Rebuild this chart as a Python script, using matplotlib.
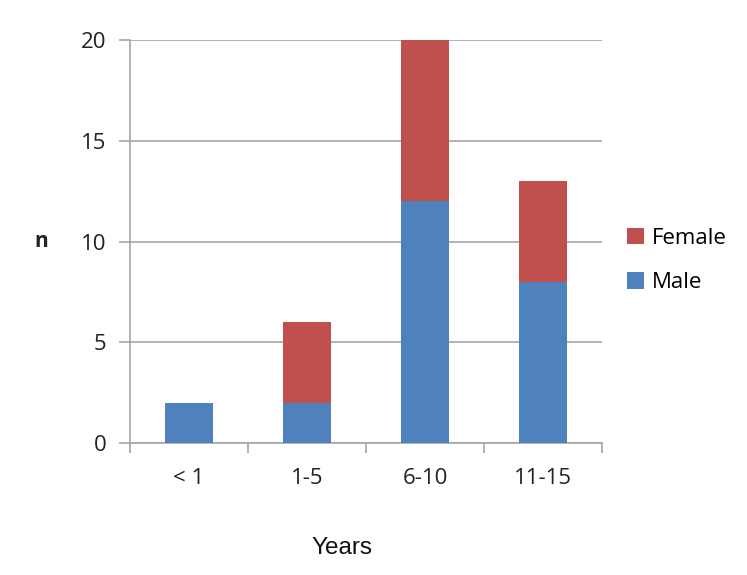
import numpy as np
import matplotlib.pyplot as plt

categories = ['< 1', '1-5', '6-10', '11-15']
male = [2, 2, 12, 8]
female = [0, 4, 8, 5]
yticks = [0, 5, 10, 15, 20]

blue = '#4F81BD'
red = '#C0504D'
grid_col = '#A6A6A6'

fig = plt.figure(figsize=(7.47, 5.75), dpi=100)
ax = fig.add_axes([0.174, 0.230, 0.632, 0.700])

x = np.arange(len(categories)) + 0.5
ax.bar(x, male, width=0.4, color=blue, label='Male', zorder=3)
ax.bar(x, female, width=0.4, bottom=male, color=red, label='Female', zorder=3)

ax.set_xlim(0, len(categories))
ax.set_ylim(0, 20)
ax.set_yticks(yticks)
ax.yaxis.grid(True, color=grid_col, linewidth=1.2, zorder=0)

# category ticks sit on the boundaries, labels in the middle
ax.set_xticks(np.arange(len(categories) + 1), minor=True)
ax.set_xticks(x)
ax.set_xticklabels(categories)
ax.tick_params(axis='x', which='major', length=0, pad=18)
ax.tick_params(axis='x', which='minor', length=7, color=grid_col, width=1.2)
ax.tick_params(axis='y', length=8, color=grid_col, width=1.2, pad=9)

for s in ['top', 'right']:
    ax.spines[s].set_visible(False)
for s in ['left', 'bottom']:
    ax.spines[s].set_color(grid_col)
    ax.spines[s].set_linewidth(1.2)

for lab in ax.get_xticklabels() + ax.get_yticklabels():
    lab.set_fontfamily('Open Sans')
    lab.set_fontsize(16)
    lab.set_color('#222222')

fig.text(0.055, 0.580, 'n', fontsize=15, family='Open Sans', fontweight='bold',
         ha='center', va='center', color='#222222')
fig.text(0.458, 0.047, 'Years', fontsize=17.5, family='Liberation Sans',
         ha='center', va='center', color='#111111')

h, l = ax.get_legend_handles_labels()
fig.legend(h[::-1], l[::-1], loc='center left', bbox_to_anchor=(0.840, 0.547),
           frameon=False, handlelength=0.75, handleheight=0.75, handletextpad=0.35,
           labelspacing=1.05, borderpad=0, borderaxespad=0,
           prop={'family': 'Open Sans', 'size': 16})

fig.savefig('out.png', dpi=100)
